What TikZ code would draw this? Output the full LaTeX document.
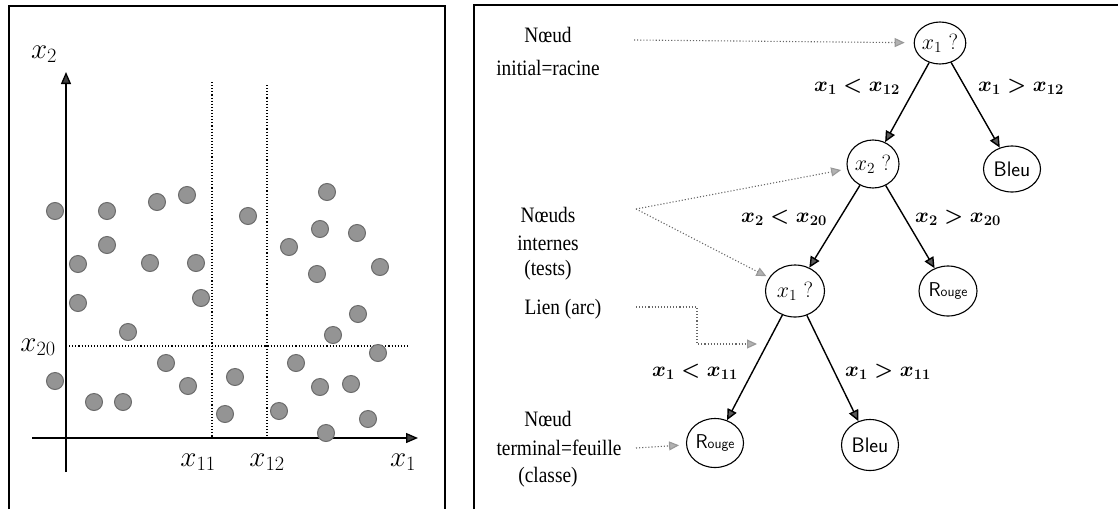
\RequirePackage{fix-cm}
\documentclass[tikz,border=0pt]{standalone}
\usepackage{fontspec}
\newfontfamily\tnr[FakeStretch=0.88]{Liberation Serif}
\usetikzlibrary{arrows.meta,shapes.geometric}
\begin{document}
\begin{tikzpicture}[x=1pt,y=-1pt,
  dot/.style={circle,fill=black!42,draw=black!58,line width=1pt,minimum size=17pt,inner sep=0pt},
  axis/.style={line width=1.3pt,-{Triangle[length=12pt,width=10pt,fill=black!75]}},
  sep/.style={dotted,line width=1.1pt},
  frame/.style={line width=1.5pt},
  tnode/.style={ellipse,draw,line width=1.1pt,inner sep=0pt},
  edge/.style={line width=1.4pt,-{Triangle[length=11pt,width=10pt,fill=black!65]}},
  note/.style={draw=black!60,dotted,line width=1.1pt,-{Triangle[length=10pt,width=9pt,color=black!40,fill=black!30]}},
  lbl/.style={font=\tnr\fontsize{22}{24}\selectfont,inner sep=0pt},
  axlab/.style={font=\fontsize{29}{30}\selectfont,inner sep=0pt},
  elab/.style={font=\fontsize{21}{24}\selectfont\boldmath,inner sep=0pt},
  qlab/.style={font=\fontsize{22}{24}\selectfont},
]
\useasboundingbox (0,0) rectangle (1118,509);
% frames
\draw[frame] (9,509) -- (9,6) -- (445,6) -- (445,509);
\draw[frame] (474,509) -- (474,5) -- (1118,5);

% ---------- left panel ----------
\coordinate (xe) at (418,438);
\coordinate (xs) at (32,438);
\coordinate (ye) at (66,72);
\coordinate (ys) at (66,472);
\draw[axis] (xs) -- (xe);
\draw[axis] (ys) -- (ye);
\coordinate (h1) at (66,346);
\coordinate (h2) at (410,346);
\coordinate (v1a) at (212,82);
\coordinate (v1b) at (212,438);
\coordinate (v2a) at (267,85);
\coordinate (v2b) at (267,438);
\draw[sep] (h1) -- (h2);
\draw[sep] (v1a) -- (v1b);
\draw[sep] (v2a) -- (v2b);

\foreach \x/\y [count=\i] in {55/211,107/211,157/202,187/195,107/245,78/264,150/263,196/263,78/303,201/298,128/332,248/216,327/192,320/229,357/233,289/247,317/274,380/267,358/314,333/335,378/353,296/363,55/381,166/363,188/386,94/402,123/402,235/377,225/414,279/411,320/387,351/384,368/419,326/433}
  \node[dot] (p\i) at (\x,\y) {};

\node[axlab] (lx2) at (44,54) {$x_2$};
\node[axlab] (lx20) at (38,347) {$x_{20}$};
\node[axlab] (lx11) at (198,462) {$x_{11}$};
\node[axlab] (lx12) at (267,462) {$x_{12}$};
\node[axlab] (lx1) at (403,462) {$x_1$};

% ---------- right panel ----------
\node[tnode,minimum width=42pt,minimum height=42pt,qlab] (r) at (940,43) {$x_1$ ?};
\node[tnode,minimum width=52pt,minimum height=48pt,qlab] (x2) at (873,164) {$x_2$ ?};
\node[tnode,minimum width=57pt,minimum height=46pt,font=\sffamily\fontsize{21}{24}\selectfont] (b1) at (1012,169) {Bleu};
\node[tnode,minimum width=59pt,minimum height=52pt,qlab] (x1b) at (795,291) {$x_1$ ?};
\node[tnode,minimum width=58pt,minimum height=50pt,font=\sffamily] (ro1) at (948,291) {{\fontsize{20}{20}\selectfont R}{\fontsize{14}{15}\selectfont ouge}};
\node[tnode,minimum width=57pt,minimum height=49pt,font=\sffamily] (ro2) at (715,443) {{\fontsize{20}{20}\selectfont R}{\fontsize{14}{15}\selectfont ouge}};
\node[tnode,minimum width=57pt,minimum height=51pt,font=\sffamily\fontsize{21}{24}\selectfont] (b2) at (870,445) {Bleu};

\draw[edge] (r) -- (x2);
\draw[edge] (r) -- (b1);
\draw[edge] (x2) -- (x1b);
\draw[edge] (x2) -- (ro1);
\draw[edge] (x1b) -- (ro2);
\draw[edge] (x1b) -- (b2);

\node[elab] (e1) at (857,87) {$x_1 < x_{12}$};
\node[elab] (e2) at (1021,87) {$x_1 > x_{12}$};
\node[elab] (e3) at (784,218) {$x_2 < x_{20}$};
\node[elab] (e4) at (958,218) {$x_2 > x_{20}$};
\node[elab] (e5) at (695,372) {$x_1 < x_{11}$};
\node[elab] (e6) at (888,372) {$x_1 > x_{11}$};

\node[lbl] (t1) at (548,35) {Nœud};
\node[lbl] (t2) at (548,68) {initial=racine};
\node[lbl] (t3) at (548,215) {Nœuds};
\node[lbl] (t4) at (548,243) {internes};
\node[lbl] (t5) at (548,270) {(tests)};
\node[lbl] (t6) at (563,309) {Lien (arc)};
\node[lbl] (t7) at (548,419) {Nœud};
\node[lbl] (t8) at (559,448) {terminal=feuille};
\node[lbl] (t9) at (548,477) {(classe)};

\coordinate (c1) at (634,40);
\coordinate (c2) at (636,209);
\coordinate (c3) at (636,307);
\coordinate (c4) at (757,344);
\coordinate (c5) at (636,448);
\draw[note,shorten >=9pt] (c1) -- (r);
\draw[note,shorten >=6pt] (c2) -- (x2);
\draw[note,shorten >=3pt] (c2) -- (x1b);
\draw[note] (c3) -- ++(61,0) |- (c4);
\draw[note,shorten >=7pt] (c5) -- (ro2);
\end{tikzpicture}
\end{document}
